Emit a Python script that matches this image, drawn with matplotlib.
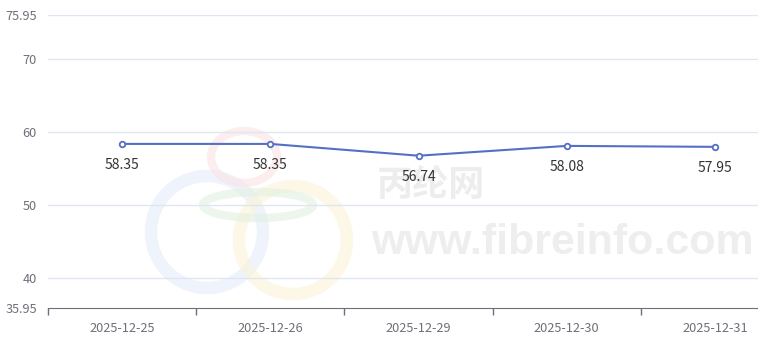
import matplotlib
matplotlib.use('Agg')
import matplotlib.pyplot as plt
from matplotlib.patches import Ellipse

plt.rcParams['font.family'] = ['Noto Sans CJK SC', 'DejaVu Sans']

dates = ['2025-12-25', '2025-12-26', '2025-12-29', '2025-12-30', '2025-12-31']
prices = [58.35, 58.35, 56.74, 58.08, 57.95]
y_ticks = [35.95, 40, 50, 60, 70, 75.95]
y_min, y_max = 35.95, 75.95

W, H = 758, 342
fig = plt.figure(figsize=(W / 100, H / 100), dpi=100)

# watermark (logo rings + text), drawn in figure pixels behind the axes
def ring(cx, cy, w, h, color, lw):
    fig.patches.append(Ellipse((cx / W, 1 - cy / H), w / W, h / H, transform=fig.transFigure,
                               fill=False, edgecolor=color, lw=lw, alpha=0.6, zorder=-2))

ring(207, 232, 112, 112, '#e3ecfb', 9)
ring(244, 157, 66, 52, '#fbe3e3', 6)
ring(293, 240, 108, 108, '#fbf3d6', 9)
ring(258, 205, 110, 26, '#e2f1e2', 6)
fig.text(431 / W, 1 - 185 / H, '丙纶网', fontsize=26, fontweight='heavy', color='#ededed',
         ha='center', va='center', zorder=-1)
fig.text(562 / W, 1 - 243 / H, 'www.fibreinfo.com', fontsize=31, fontweight='bold', color='#eeeeee',
         ha='center', va='center', zorder=-1, family='Liberation Sans')

ax = fig.add_axes([48 / W, 34 / H, 741 / W, 293 / H])
ax.set_zorder(1)
ax.patch.set_alpha(0)

x = list(range(len(dates)))
ax.plot(x, prices, color='#5470c6', lw=1.5, marker='o', markersize=4,
        markerfacecolor='white', markeredgecolor='#5470c6', markeredgewidth=1.3, zorder=3)
for xi, v in zip(x, prices):
    ax.annotate(f'{v:.2f}', (xi, v), xytext=(0, -21), textcoords='offset pixels',
                ha='center', va='center', fontsize=10, color='#333333')

ax.set_xlim(-0.5, len(dates) - 0.5)
ax.set_ylim(y_min, y_max)
ax.set_yticks(y_ticks)
ax.set_yticklabels([f'{t:g}' for t in y_ticks])
for t in y_ticks[1:]:
    ax.axhline(t, color='#e0e6f1', lw=1, zorder=1)

ax.set_xticks(x)
ax.set_xticklabels(dates)
ax.set_xticks([i - 0.5 for i in range(len(dates) + 1)], minor=True)
ax.tick_params(axis='x', which='major', length=0, pad=10, labelsize=9.2, labelcolor='#6e7079')
ax.tick_params(axis='x', which='minor', length=5, color='#6e7079', width=1)
ax.tick_params(axis='y', length=0, pad=8, labelsize=9.2, labelcolor='#6e7079')

for s in ['top', 'right', 'left']:
    ax.spines[s].set_visible(False)
ax.spines['bottom'].set_color('#6e7079')

fig.savefig('out.png', dpi=100)
